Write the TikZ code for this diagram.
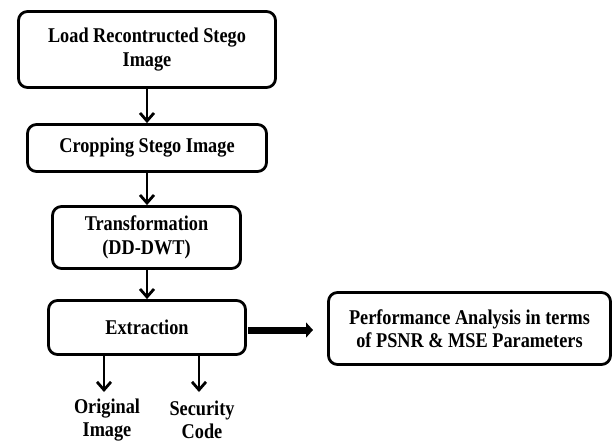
\documentclass[tikz,border=0pt]{standalone}
\usepackage{fontspec}
\setmainfont{Liberation Serif}[FakeStretch=0.87]
\usetikzlibrary{arrows.meta}
\begin{document}
\begin{tikzpicture}[x=1pt,y=-1pt,
  box/.style={draw=black,line width=2.8pt,rounded corners=9pt,inner sep=0pt,align=center,
    font=\fontsize{21}{23.5}\bfseries\selectfont},
  flow/.style={line width=2.8pt,-{Straight Barb[length=8pt,width=14pt,line width=2.8pt]}},
  bigflow/.style={line width=7pt,-{Triangle[length=7pt,width=15pt]}},
  lbl/.style={align=center,inner sep=0pt,font=\fontsize{21}{23}\bfseries\selectfont}]
\useasboundingbox[fill=white] (0,0) rectangle (613,444);
\node[box,minimum width=257pt,minimum height=76pt] (load) at (147,49.5) {Load Recontructed Stego\\Image};
\node[box,minimum width=239pt,minimum height=47pt] (crop) at (147,148) {Cropping Stego Image};
\node[box,minimum width=188pt,minimum height=62pt] (trans) at (146.5,237.5) {Transformation\\(DD-DWT)};
\node[box,minimum width=197pt,minimum height=54pt] (ext) at (147,327.5) {Extraction};
\node[box,minimum width=282pt,minimum height=72pt] (perf) at (469.5,328.5) {Performance Analysis in terms\\of PSNR \& MSE Parameters};
\node[lbl] (orig) at (107,420) {Original\\Image};
\node[lbl] (sec) at (202,420) {Security\\Code};
\coordinate (o1) at (104,392);
\coordinate (s1) at (199,392);
\coordinate (pe) at (313,330);
\draw[flow] (load.south) -- (crop.north);
\draw[flow] (crop.south) -- (trans.north -| crop.south);
\draw[flow] (trans.south -| crop.south) -- (ext.north);
\draw[flow] (ext.south -| o1) -- (o1);
\draw[flow] (ext.south -| s1) -- (s1);
\draw[bigflow] (ext.east |- pe) ++(1.5,0) -- (pe);
\end{tikzpicture}
\end{document}
